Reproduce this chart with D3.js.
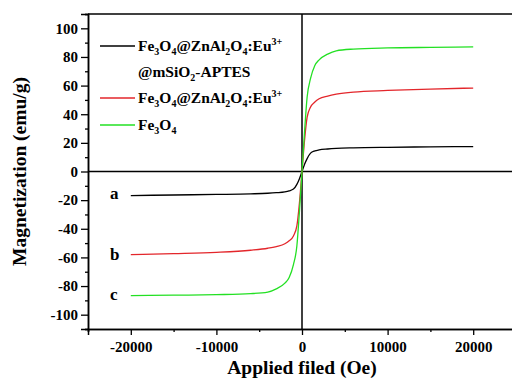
<!DOCTYPE html>
<html>
<head>
<meta charset="utf-8">
<script src="https://cdn.jsdelivr.net/npm/d3@7"></script>
<style>
    body { margin: 0; background: #fff; }
    svg { display: block; }
    text { font-family: "Liberation Serif", "Times New Roman", serif; font-weight: bold; fill: #000; }
</style>
</head>
<body>
<div id="chart"></div>
<script>
// applied field (Oe), shared by the three curves
const fields = [-20000, -15000, -10000, -6000, -4000, -3000, -2000, -1500, -1000, -600, -300, 0,
    300, 600, 1000, 1500, 2000, 3000, 4000, 6000, 10000, 15000, 20000]

// magnetization (emu/g)
const blackVals = [-16.8, -16.4, -16.0, -15.6, -15.2, -14.8, -14.2, -13.5, -12.3, -9, -5, 0,
    5, 9, 12.8, 14.4, 15.1, 15.7, 16.1, 16.5, 16.9, 17.2, 17.4]
const redVals = [-58.1, -57.4, -56.5, -55.0, -53.6, -52.4, -50.5, -48.4, -45, -38, -22, 0,
    22, 38, 45, 48.5, 50.8, 52.7, 54.0, 55.5, 56.6, 57.6, 58.3]
const greenVals = [-86.7, -86.4, -86.0, -85.3, -84.2, -82.0, -78.0, -74.0, -65, -52, -28, 0,
    28, 52, 65, 74, 78, 82.0, 84.3, 85.5, 86.3, 86.7, 87.0]

const xTicks = [-20000, -10000, 0, 10000, 20000]
const yTicks = [-100, -80, -60, -40, -20, 0, 20, 40, 60, 80, 100]

const series = [
    { key: "a", color: "#000000", values: blackVals },
    { key: "b", color: "#e3262b", values: redVals },
    { key: "c", color: "#23e023", values: greenVals }
]

const W = 512, H = 378
const margin = { top: 14, right: -4, bottom: 49, left: 88 }
const width = W - margin.left - margin.right
const height = H - margin.top - margin.bottom

const svg = d3.select('#chart').append('svg')
    .attr('width', W)
    .attr('height', H)

const g = svg.append('g')
    .attr('transform', `translate(${margin.left},${margin.top})`)

const x = d3.scaleLinear().domain([-25000, 25000]).range([0, width])
const y = d3.scaleLinear().domain([-110, 110]).range([height, 0])

const fmt = d => String(d) // plain hyphen minus like the original

// zero lines
g.append('line')
    .attr('x1', 0).attr('x2', width)
    .attr('y1', y(0)).attr('y2', y(0))
    .attr('stroke', '#000').attr('stroke-width', 1.5)
g.append('line')
    .attr('x1', x(0)).attr('x2', x(0))
    .attr('y1', 0).attr('y2', height)
    .attr('stroke', '#000').attr('stroke-width', 1.5)

// curves
const line = d3.line().curve(d3.curveMonotoneX)
series.forEach(s => {
    g.append('path')
        .datum(fields.map((f, i) => [f, s.values[i]]))
        .attr('fill', 'none')
        .attr('stroke', s.color)
        .attr('stroke-width', 1.3)
        .attr('d', line.x(d => x(d[0])).y(d => y(d[1])))
})

// axes
g.append('g')
    .attr('transform', `translate(0,${height})`)
    .call(d3.axisBottom(x).tickValues(xTicks).tickSize(6).tickPadding(6).tickFormat(fmt))
g.append('g')
    .attr('transform', `translate(0,${height})`)
    .call(d3.axisBottom(x).tickValues([-25000, -15000, -5000, 5000, 15000]).tickSize(3).tickFormat(''))
g.append('g')
    .call(d3.axisLeft(y).tickValues(yTicks).tickSize(7).tickPadding(3).tickFormat(fmt))
g.append('g')
    .call(d3.axisLeft(y).tickValues(d3.range(-110, 111, 20)).tickSize(3).tickFormat(''))

g.selectAll('.domain').attr('stroke-width', 1.5)
g.selectAll('.tick line').attr('stroke-width', 1.3)
g.selectAll('.tick text')
    .attr('font-family', '"Liberation Serif", "Times New Roman", serif')
    .attr('font-weight', 'bold')
    .attr('font-size', 15)
    .attr('fill', '#000')

// top frame
g.append('line')
    .attr('x1', 0).attr('x2', width)
    .attr('y1', 0).attr('y2', 0)
    .attr('stroke', '#000').attr('stroke-width', 1.5)

// axis titles
svg.append('text')
    .attr('x', margin.left + x(0))
    .attr('y', 374)
    .attr('text-anchor', 'middle')
    .attr('font-size', 19.5)
    .text('Applied filed (Oe)')
svg.append('text')
    .attr('transform', `translate(26,${margin.top + y(0)}) rotate(-90)`)
    .attr('text-anchor', 'middle')
    .attr('font-size', 19.5)
    .text('Magnetization (emu/g)')

// curve letters
const letterY = { a: -16, b: -58, c: -86 }
series.forEach(s => {
    g.append('text')
        .attr('x', 22)
        .attr('y', y(letterY[s.key]) + 5)
        .attr('font-size', 17)
        .text(s.key)
})

// legend
const legend = g.append('g').attr('transform', 'translate(12,0)')
const addLabel = (sel, parts) => {
    parts.forEach(p => {
        const t = sel.append('tspan').text(p[0])
        if (p[1] == 'sub') t.attr('font-size', 10).attr('dy', 4)
        if (p[1] == 'sup') t.attr('font-size', 10).attr('dy', -6)
        if (p[1] == 'back') t.attr('dy', p[2])
    })
}
const longName = [['Fe'], ['3', 'sub'], ['O', 'back', -4], ['4', 'sub'], ['@ZnAl', 'back', -4], ['2', 'sub'],
    ['O', 'back', -4], ['4', 'sub'], [':Eu', 'back', -4], ['3+', 'sup']]
const legendRows = [
    { color: series[0].color, ly: 32, lines: [longName, [['@mSiO'], ['2', 'sub'], ['-APTES', 'back', -4]]] },
    { color: series[1].color, ly: 84, lines: [longName] },
    { color: series[2].color, ly: 111, lines: [[['Fe'], ['3', 'sub'], ['O', 'back', -4], ['4', 'sub']]] }
]
legendRows.forEach(r => {
    legend.append('line')
        .attr('x1', 0).attr('x2', 35)
        .attr('y1', r.ly).attr('y2', r.ly)
        .attr('stroke', r.color).attr('stroke-width', 1.3)
    r.lines.forEach((ln, i) => {
        const t = legend.append('text')
            .attr('x', 38)
            .attr('y', r.ly + 5 + i * 26)
            .attr('font-size', 15.5)
        addLabel(t, ln)
    })
})
</script>
</body>
</html>
